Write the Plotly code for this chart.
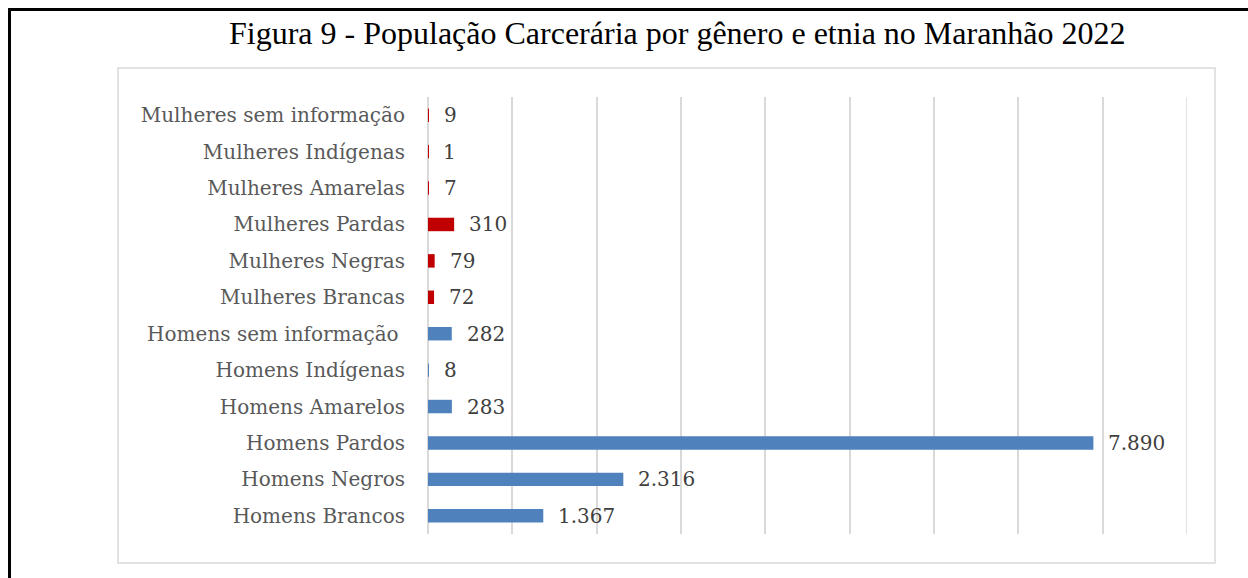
import plotly.graph_objects as go

categories = [
    "Homens Brancos", "Homens Negros", "Homens Pardos", "Homens Amarelos",
    "Homens Indígenas", "Homens sem informação\u00a0", "Mulheres Brancas",
    "Mulheres Negras", "Mulheres Pardas", "Mulheres Amarelas",
    "Mulheres Indígenas", "Mulheres sem informação",
]
values = [1367, 2316, 7890, 283, 8, 282, 72, 79, 310, 7, 1, 9]
colors = ["#4F81BD"] * 6 + ["#C00000"] * 6
title = "Figura 9 - População Carcerária por gênero e etnia no Maranhão 2022"
x_max = 9000
x_step = 1000

def fmt(v):
    return f"{v:,}".replace(",", ".")

W, H = 1248, 578
L, R, T, B = 428, 61, 97, 44
pw, ph = W - L - R, H - T - B

def px(x):
    return (x - L) / pw

def py(y):
    return (H - B - y) / ph

LABEL_FONT = "DejaVu Serif"

fig = go.Figure()
fig.add_trace(go.Bar(
    x=values, y=categories, orientation="h",
    marker=dict(color=colors, line=dict(width=0)),
    width=0.37, showlegend=False, hoverinfo="skip",
))
for c, v in zip(categories, values):
    fig.add_annotation(x=v, y=c, text=fmt(v), showarrow=False,
                       xanchor="left", xshift=13,
                       font=dict(family=LABEL_FONT, size=20, color="#404040"))

fig.add_annotation(xref="paper", yref="paper", x=px(677.5), y=py(33),
                   text=title, showarrow=False, xanchor="center", yanchor="middle",
                   font=dict(family="Liberation Serif", size=32, color="#000000"))

fig.add_shape(type="rect", xref="paper", yref="paper",
              x0=px(118), x1=px(1215), y0=py(563), y1=py(68),
              line=dict(color="#D9D9D9", width=1.5), layer="below")
fig.add_shape(type="path", xref="paper", yref="paper",
              path=f"M {px(9.5)} {py(600)} L {px(9.5)} {py(9.5)} L {px(1260)} {py(9.5)}",
              line=dict(color="#000000", width=3))
# last gridline at the right edge of the value axis
fig.add_shape(type="line", xref="x", yref="paper", x0=x_max, x1=x_max, y0=0, y1=1,
              line=dict(color="#D9D9D9", width=1.5), layer="below")

fig.update_layout(
    width=W, height=H,
    margin=dict(l=L, r=R, t=T, b=B),
    paper_bgcolor="white", plot_bgcolor="white",
    xaxis=dict(range=[0, x_max], tick0=0, dtick=x_step, showticklabels=False,
               showgrid=True, gridcolor="#D9D9D9", gridwidth=1.5,
               zeroline=True, zerolinecolor="#D9D9D9", zerolinewidth=1.5,
               showline=False, fixedrange=True),
    yaxis=dict(categoryorder="array", categoryarray=categories,
               showgrid=False, showline=False, ticks="",
               ticklabelstandoff=22, fixedrange=True,
               tickfont=dict(family=LABEL_FONT, size=20, color="#595959")),
)
fig.write_html("out.html", config={"displayModeBar": False},
               post_script="document.body.style.margin='0';document.documentElement.style.overflow='hidden';")
